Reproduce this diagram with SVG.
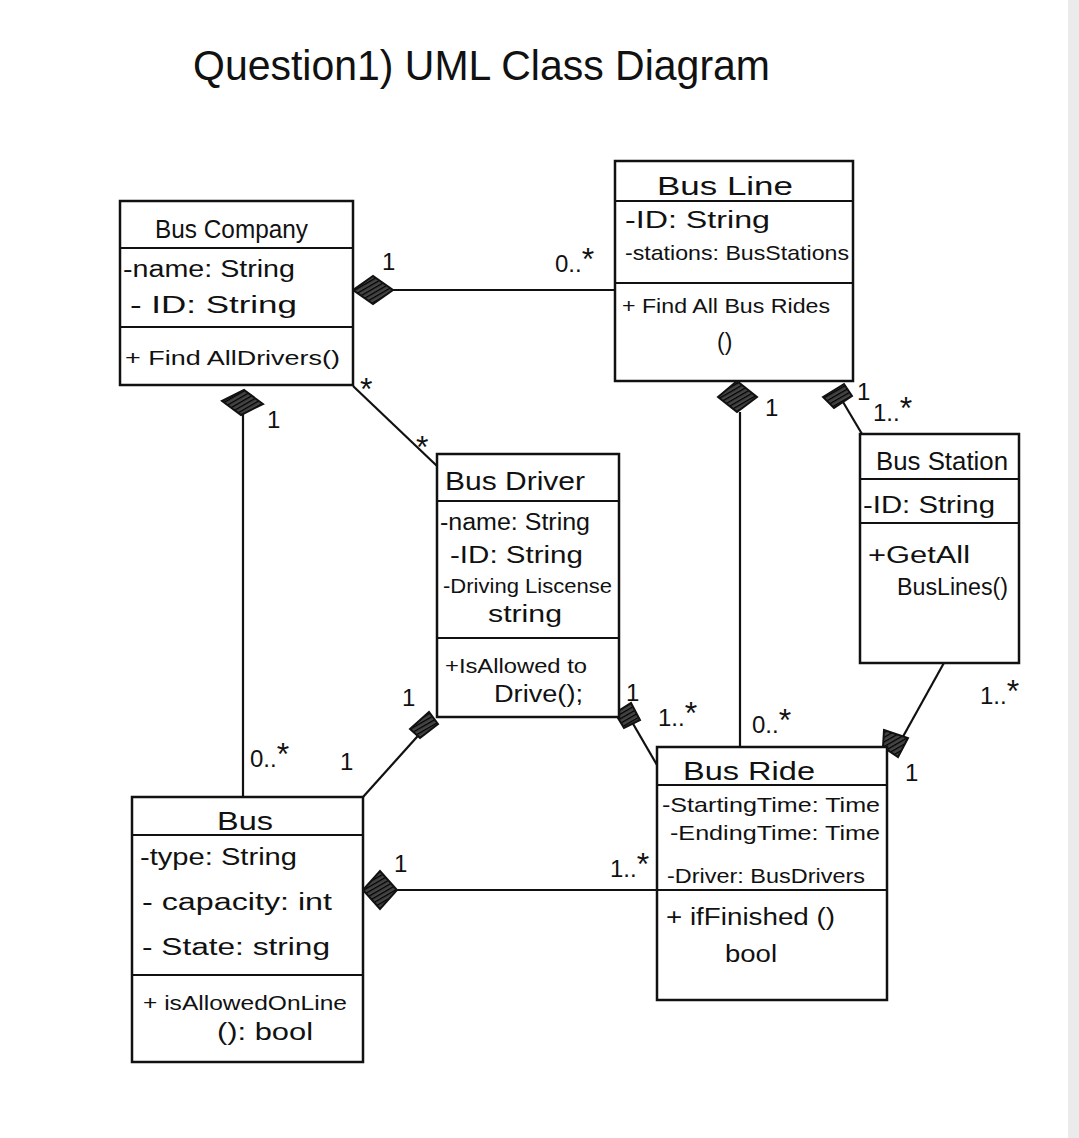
<svg xmlns="http://www.w3.org/2000/svg" width="1079" height="1138" viewBox="0 0 1079 1138">
<style>
.box{fill:#fff;stroke:#111;stroke-width:2.5}
.sep{stroke:#111;stroke-width:2.2}
.t{font-family:"Liberation Sans",Arial,sans-serif;font-size:23px;fill:#111}
.s{font-size:21px}
.h{font-family:"Liberation Sans",Arial,sans-serif;font-size:26px;fill:#111}
.m{font-family:"Liberation Sans",Arial,sans-serif;font-size:24px;fill:#111}
.a{font-size:32px}
.ln{stroke:#111;stroke-width:2.2;fill:none}
.dia{fill:url(#hatch);stroke:#111;stroke-width:2}
</style>
<defs>
<pattern id="hatch" width="4" height="4" patternUnits="userSpaceOnUse" patternTransform="rotate(60)">
<rect width="4" height="4" fill="#444"/>
<line x1="0" y1="0" x2="0" y2="4" stroke="#000" stroke-width="2.5"/>
</pattern>
</defs>
<rect width="1079" height="1138" fill="#fff"/>
<rect x="1068" y="0" width="11" height="1138" fill="#ebebeb"/>
<text x="193" y="80" font-family="Liberation Sans, Arial, sans-serif" font-size="42" fill="#111" textLength="577" lengthAdjust="spacingAndGlyphs">Question1) UML Class Diagram</text>

<g id="connectors">
<line class="ln" x1="393" y1="290" x2="615" y2="290"/>
<line class="ln" x1="353" y1="386" x2="437" y2="466"/>
<line class="ln" x1="243" y1="412" x2="243" y2="797"/>
<line class="ln" x1="740" y1="412" x2="740" y2="747"/>
<line class="ln" x1="843" y1="402" x2="862" y2="434"/>
<line class="ln" x1="945" y1="661" x2="900" y2="742"/>
<line class="ln" x1="363" y1="797" x2="425" y2="728"/>
<line class="ln" x1="632" y1="722" x2="657" y2="765"/>
<line class="ln" x1="397" y1="890" x2="657" y2="890"/>
<polygon class="dia" points="353,290 373,276 393,290 373,304"/>
<polygon class="dia" points="222,401 244,390 263,404 241,415"/>
<polygon class="dia" points="718,397 737,381 757,397 737,412"/>
<polygon class="dia" points="823,397 844,384 852,396 834,408"/>
<polygon class="dia" points="884,730 908,738 898,757 883,747"/>
<polygon class="dia" points="410,729 429,712 438,724 420,738"/>
<polygon class="dia" points="615,713 631,703 640,720 624,728"/>
<polygon class="dia" points="363,890 380,871 397,890 380,909"/>
<text class="m" x="382" y="270">1</text>
<text class="m" x="555" y="272">0..<tspan class="a" dy="-2">*</tspan></text>
<text class="m a" x="360" y="400">*</text>
<text class="m a" x="416" y="458">*</text>
<text class="m" x="267" y="428">1</text>
<text class="m" x="250" y="767">0..<tspan class="a" dy="-2">*</tspan></text>
<text class="m" x="765" y="416">1</text>
<text class="m" x="752" y="733">0..<tspan class="a" dy="-2">*</tspan></text>
<text class="m" x="857" y="400">1</text>
<text class="m" x="873" y="421">1..<tspan class="a" dy="-2">*</tspan></text>
<text class="m" x="980" y="704">1..<tspan class="a" dy="-2">*</tspan></text>
<text class="m" x="905" y="781">1</text>
<text class="m" x="402" y="706">1</text>
<text class="m" x="340" y="770">1</text>
<text class="m" x="626" y="701">1</text>
<text class="m" x="658" y="726">1..<tspan class="a" dy="-2">*</tspan></text>
<text class="m" x="394" y="872">1</text>
<text class="m" x="610" y="877">1..<tspan class="a" dy="-2">*</tspan></text>
</g>

<g id="bus-company">
<rect class="box" x="120" y="201" width="233" height="184"/>
<line class="sep" x1="120" y1="248" x2="353" y2="248"/>
<line class="sep" x1="120" y1="327" x2="353" y2="327"/>
<text class="h" x="155" y="238" textLength="153" lengthAdjust="spacingAndGlyphs">Bus Company</text>
<text class="t" x="123" y="277" textLength="172" lengthAdjust="spacingAndGlyphs">-name: String</text>
<text class="t" x="130" y="313" textLength="167" lengthAdjust="spacingAndGlyphs">- ID: String</text>
<text class="t s" x="125" y="365" textLength="215" lengthAdjust="spacingAndGlyphs">+ Find AllDrivers()</text>
</g>

<g id="bus-line">
<rect class="box" x="615" y="161" width="238" height="220"/>
<line class="sep" x1="615" y1="201" x2="853" y2="201"/>
<line class="sep" x1="615" y1="283" x2="853" y2="283"/>
<text class="h" x="657" y="195" textLength="136" lengthAdjust="spacingAndGlyphs">Bus Line</text>
<text class="t" x="625" y="228" textLength="145" lengthAdjust="spacingAndGlyphs">-ID: String</text>
<text class="t s" x="625" y="260" textLength="224" lengthAdjust="spacingAndGlyphs">-stations: BusStations</text>
<text class="t s" x="622" y="313" textLength="208" lengthAdjust="spacingAndGlyphs">+ Find All Bus Rides</text>
<text class="t" x="717" y="350">()</text>
</g>

<g id="bus-driver">
<rect class="box" x="437" y="454" width="182" height="263"/>
<line class="sep" x1="437" y1="501" x2="619" y2="501"/>
<line class="sep" x1="437" y1="638" x2="619" y2="638"/>
<text class="h" x="445" y="490" textLength="140" lengthAdjust="spacingAndGlyphs">Bus Driver</text>
<text class="t" x="440" y="530" textLength="150" lengthAdjust="spacingAndGlyphs">-name: String</text>
<text class="t" x="450" y="563" textLength="133" lengthAdjust="spacingAndGlyphs">-ID: String</text>
<text class="t s" x="443" y="593" textLength="169" lengthAdjust="spacingAndGlyphs">-Driving Liscense</text>
<text class="t" x="488" y="622" textLength="74" lengthAdjust="spacingAndGlyphs">string</text>
<text class="t s" x="445" y="673" textLength="142" lengthAdjust="spacingAndGlyphs">+IsAllowed to</text>
<text class="t" x="494" y="702" textLength="89" lengthAdjust="spacingAndGlyphs">Drive();</text>
</g>

<g id="bus-station">
<rect class="box" x="860" y="434" width="159" height="229"/>
<line class="sep" x1="860" y1="479" x2="1019" y2="479"/>
<line class="sep" x1="860" y1="523" x2="1019" y2="523"/>
<text class="h" x="876" y="470" textLength="132" lengthAdjust="spacingAndGlyphs">Bus Station</text>
<text class="t" x="863" y="513" textLength="132" lengthAdjust="spacingAndGlyphs">-ID: String</text>
<text class="t" x="868" y="563" textLength="102" lengthAdjust="spacingAndGlyphs">+GetAll</text>
<text class="t" x="897" y="595" textLength="111" lengthAdjust="spacingAndGlyphs">BusLines()</text>
</g>

<g id="bus-ride">
<rect class="box" x="657" y="747" width="230" height="253"/>
<line class="sep" x1="657" y1="785" x2="887" y2="785"/>
<line class="sep" x1="657" y1="890" x2="887" y2="890"/>
<text class="h" x="683" y="780" textLength="132" lengthAdjust="spacingAndGlyphs">Bus Ride</text>
<text class="t s" x="662" y="812" textLength="218" lengthAdjust="spacingAndGlyphs">-StartingTime: Time</text>
<text class="t s" x="670" y="840" textLength="210" lengthAdjust="spacingAndGlyphs">-EndingTime: Time</text>
<text class="t s" x="667" y="883" textLength="198" lengthAdjust="spacingAndGlyphs">-Driver: BusDrivers</text>
<text class="t" x="666" y="925" textLength="169" lengthAdjust="spacingAndGlyphs">+ ifFinished ()</text>
<text class="t" x="725" y="962" textLength="52" lengthAdjust="spacingAndGlyphs">bool</text>
</g>

<g id="bus">
<rect class="box" x="132" y="797" width="231" height="265"/>
<line class="sep" x1="132" y1="835" x2="363" y2="835"/>
<line class="sep" x1="132" y1="975" x2="363" y2="975"/>
<text class="h" x="217" y="830" textLength="56" lengthAdjust="spacingAndGlyphs">Bus</text>
<text class="t" x="140" y="865" textLength="157" lengthAdjust="spacingAndGlyphs">-type: String</text>
<text class="t" x="142" y="910" textLength="190" lengthAdjust="spacingAndGlyphs">- capacity: int</text>
<text class="t" x="142" y="955" textLength="188" lengthAdjust="spacingAndGlyphs">- State: string</text>
<text class="t s" x="143" y="1010" textLength="204" lengthAdjust="spacingAndGlyphs">+ isAllowedOnLine</text>
<text class="t" x="217" y="1040" textLength="96" lengthAdjust="spacingAndGlyphs">(): bool</text>
</g>
</svg>
